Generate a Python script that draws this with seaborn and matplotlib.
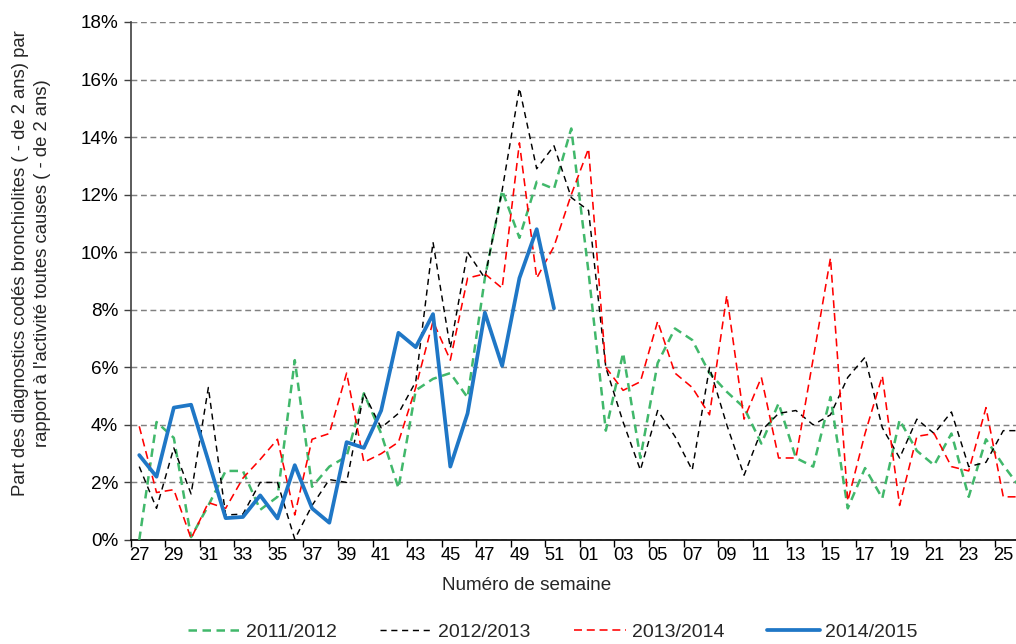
import numpy as np
import pandas as pd
import seaborn as sns
import matplotlib
matplotlib.use("Agg")
import matplotlib.pyplot as plt
from matplotlib.lines import Line2D
from matplotlib.ticker import FixedLocator, PercentFormatter

# semaines 27..52 puis 01..26
semaines = ["27", "28", "29", "30", "31", "32", "33", "34", "35", "36", "37", "38", "39",
            "40", "41", "42", "43", "44", "45", "46", "47", "48", "49", "50", "51", "52",
            "01", "02", "03", "04", "05", "06", "07", "08", "09", "10", "11", "12", "13",
            "14", "15", "16", "17", "18", "19", "20", "21", "22", "23", "24", "25", "26"]

saison_2011_2012 = [0.0, 4.1, 3.55, 0.1, 1.2, 2.4, 2.4, 1.05, 1.5, 6.25, 1.85, 2.55, 2.9,
                    5.1, 3.7, 1.8, 5.2, 5.6, 5.8, 4.95, 9.1, 12.15, 10.5, 12.45, 12.2, 14.3,
                    9.3, 3.8, 6.5, 2.85, 6.15, 7.35, 6.95, 5.8, 5.15, 4.6, 3.35, 4.75, 2.85,
                    2.55, 4.97, 1.1, 2.5, 1.45, 4.17, 3.1, 2.6, 3.7, 1.5, 3.5, 2.6, 1.8]

saison_2012_2013 = [2.55, 1.1, 3.2, 1.6, 5.3, 0.87, 0.9, 2.0, 2.0, 0.03, 1.2, 2.1, 2.0,
                    5.1, 3.9, 4.4, 5.5, 10.35, 6.67, 10.0, 9.1, 12.15, 15.7, 12.9, 13.7, 11.9,
                    11.45, 6.0, 4.1, 2.43, 4.5, 3.6, 2.43, 6.0, 4.0, 2.25, 3.8, 4.4, 4.5,
                    4.0, 4.35, 5.65, 6.35, 3.9, 2.85, 4.2, 3.7, 4.45, 2.55, 2.7, 3.8, 3.8]

saison_2013_2014 = [3.95, 1.65, 1.75, 0.05, 1.3, 1.1, 2.15, 2.8, 3.5, 0.87, 3.5, 3.7, 5.8,
                    2.7, 3.0, 3.4, 5.3, 7.6, 6.25, 9.1, 9.25, 8.75, 13.8, 9.1, 10.2, 12.0,
                    13.6, 6.0, 5.2, 5.5, 7.6, 5.8, 5.3, 4.35, 8.5, 4.2, 5.65, 2.85, 2.85,
                    6.3, 9.8, 1.35, 3.7, 5.7, 1.2, 3.6, 3.7, 2.55, 2.4, 4.6, 1.5, 1.5]

saison_2014_2015 = [2.95, 2.2, 4.6, 4.7, 2.75, 0.76, 0.8, 1.55, 0.75, 2.6, 1.1, 0.6, 3.4,
                    3.2, 4.5, 7.2, 6.7, 7.85, 2.55, 4.4, 7.9, 6.05, 9.1, 10.8, 8.05]

saisons = ["2011/2012", "2012/2013", "2013/2014", "2014/2015"]
valeurs = [saison_2011_2012, saison_2012_2013, saison_2013_2014, saison_2014_2015]

couleurs = {"2011/2012": "#41B86B", "2012/2013": "#000000",
            "2013/2014": "#FF0000", "2014/2015": "#1F77C6"}
epaisseurs = {"2011/2012": 1.8, "2012/2013": 1.05, "2013/2014": 1.15, "2014/2015": 2.7}
tirets = {"2011/2012": (3.4, 2.2), "2012/2013": (4.2, 3.2),
          "2013/2014": (5.0, 3.0), "2014/2015": ""}

rows = []
for s, v in zip(saisons, valeurs):
    for i, p in enumerate(v):
        rows.append((i, p, s))
df = pd.DataFrame(rows, columns=["idx", "part", "saison"])

sns.set_theme(style="white")
plt.rcParams["font.family"] = ["Liberation Sans", "DejaVu Sans"]

W, H = 1016, 644
fig = plt.figure(figsize=(W / 100, H / 100), dpi=100)
x0, x1, y0, y1 = 130.6, 1029.2, 22, 540
ax = fig.add_axes([x0 / W, 1 - y1 / H, (x1 - x0) / W, (y1 - y0) / H])

sns.lineplot(data=df, x="idx", y="part", hue="saison", size="saison", style="saison",
             palette=couleurs, sizes=epaisseurs, dashes=tirets, hue_order=saisons,
             size_order=saisons, style_order=saisons, estimator=None, legend=False,
             ax=ax, zorder=3)

ax.set_xlim(-0.5, len(semaines) - 0.5)
ax.set_ylim(0, 18)

# y axis
ax.yaxis.set_major_locator(FixedLocator(np.arange(0, 19, 2)))
ax.yaxis.set_major_formatter(PercentFormatter(decimals=0))
ax.tick_params(axis="y", which="major", direction="out", length=5, width=1,
               color="#404040", pad=4, labelsize=13.6, labelcolor="#000000", left=True)
ax.yaxis.grid(True, color="#808080", linestyle=(0, (4, 2.5)), linewidth=1.05)
ax.xaxis.grid(False)

# x axis: labels every other week, tick marks between categories
pos = np.arange(0, len(semaines), 2)
ax.xaxis.set_major_locator(FixedLocator(pos))
ax.set_xticklabels([semaines[i] for i in pos])
ax.xaxis.set_minor_locator(FixedLocator(np.arange(-0.5, len(semaines), 2)))
ax.tick_params(axis="x", which="major", length=0, pad=5, labelsize=13.2, labelcolor="#000000")
ax.tick_params(axis="x", which="minor", direction="out", length=5, width=1,
               color="#000000", bottom=True)

for side in ["top", "right"]:
    ax.spines[side].set_visible(False)
ax.spines["left"].set_color("#404040")
ax.spines["left"].set_linewidth(1.2)
ax.spines["bottom"].set_color("#000000")
ax.spines["bottom"].set_linewidth(1.2)
ax.set_xlabel("")
ax.set_ylabel("")

fig.text(527 / W, 1 - 585 / H, "Numéro de semaine", ha="center", va="center", fontsize=13.6)
fig.text(31.5 / W, 1 - 263 / H,
         "Part des diagnostics codés bronchiolites ( - de 2 ans) par\n"
         "rapport à l'activité toutes causes ( - de 2 ans)",
         rotation=90, ha="center", va="center", ma="center", fontsize=13.3, linespacing=1.35)

handles = []
for s in saisons:
    ls = "-" if tirets[s] == "" else (0, tirets[s])
    handles.append(Line2D([0], [0], color=couleurs[s], linewidth=epaisseurs[s], linestyle=ls))
fig.legend(handles, saisons, loc="center", bbox_to_anchor=(553 / W, 1 - 632 / H), ncol=4,
           frameon=False, fontsize=14, handlelength=2.7, handletextpad=0.3,
           columnspacing=2.2, borderaxespad=0, borderpad=0)

fig.savefig("out.png", dpi=100)
